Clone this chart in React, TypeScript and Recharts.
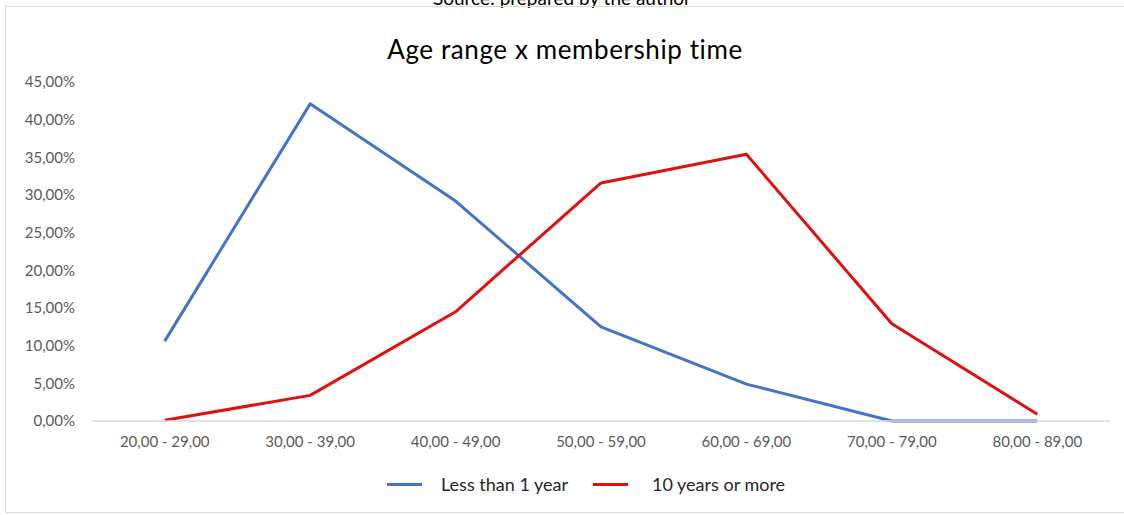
import { LineChart, Line, XAxis, YAxis } from 'recharts'

const ageRanges = [
  '20,00 - 29,00',
  '30,00 - 39,00',
  '40,00 - 49,00',
  '50,00 - 59,00',
  '60,00 - 69,00',
  '70,00 - 79,00',
  '80,00 - 89,00',
]
const lessThanOneYear = [10.6, 42.1, 29.2, 12.5, 4.9, 0, 0]
const tenYearsOrMore = [0.1, 3.4, 14.5, 31.6, 35.4, 12.9, 0.9]
const yTicks = [0, 5, 10, 15, 20, 25, 30, 35, 40, 45]

const data = ageRanges.map((name, i) => ({
  name,
  less: lessThanOneYear[i],
  ten: tenYearsOrMore[i],
}))

const BLUE = '#4472C4'
const RED = '#E01010'
const FONT = 'Lato, "Open Sans", sans-serif'

const fmt = (v: number) => v.toFixed(2).replace('.', ',') + '%'

function LegendItem({ color, label, gap }: { color: string; label: string; gap: number }) {
  return (
    <div style={{ display: 'flex', alignItems: 'center' }}>
      <div style={{ width: 35, height: 3, background: color, marginRight: gap }} />
      <span>{label}</span>
    </div>
  )
}

export default function App() {
  return (
    <div style={{ position: 'absolute', left: 0, top: 0, width: 1124, height: 515, background: '#fff', overflow: 'hidden', fontFamily: FONT }}>
      {/* caption above the chart, cropped in the source image */}
      <div style={{ position: 'absolute', left: 0, right: 0, top: -14, textAlign: 'center', fontSize: 19, color: '#000' }}>
        Source: prepared by the author
      </div>
      <div style={{ position: 'absolute', left: 5, top: 6, width: 1130, height: 505, border: '1px solid #d9d9d9' }} />
      <div style={{ position: 'absolute', left: 0, right: 0, top: 33, textAlign: 'center', fontSize: 26, letterSpacing: 0.6, color: '#000', paddingLeft: 6 }}>
        Age range x membership time
      </div>
      <div style={{ position: 'absolute', left: 0, top: 0 }}>
        <LineChart width={1124} height={515} data={data} margin={{ top: 82, right: 14, bottom: 64, left: 0 }}>
          <XAxis
            dataKey="name"
            scale="band"
            axisLine={{ stroke: '#d9d9d9', strokeWidth: 1.5 }}
            tickLine={false}
            tickSize={0}
            tickMargin={15}
            tick={{ fill: '#595959', fontSize: 15, fontFamily: FONT }}
            interval={0}
          />
          <YAxis
            width={92}
            domain={[0, 45]}
            ticks={yTicks}
            tickFormatter={fmt}
            axisLine={false}
            tickLine={false}
            tickSize={0}
            tickMargin={17}
            tick={{ fill: '#595959', fontSize: 15, fontFamily: FONT }}
            interval={0}
          />
          <Line dataKey="less" stroke={BLUE} strokeWidth={3} dot={false} isAnimationActive={false} strokeLinejoin="round" />
          <Line dataKey="ten" stroke={RED} strokeWidth={3} dot={false} isAnimationActive={false} strokeLinejoin="round" />
        </LineChart>
      </div>
      <div style={{ position: 'absolute', left: 387, top: 473, display: 'flex', gap: 25, fontSize: 18, color: '#262626' }}>
        <LegendItem color={BLUE} label="Less than 1 year" gap={19} />
        <LegendItem color={RED} label="10 years or more" gap={24} />
      </div>
    </div>
  )
}
